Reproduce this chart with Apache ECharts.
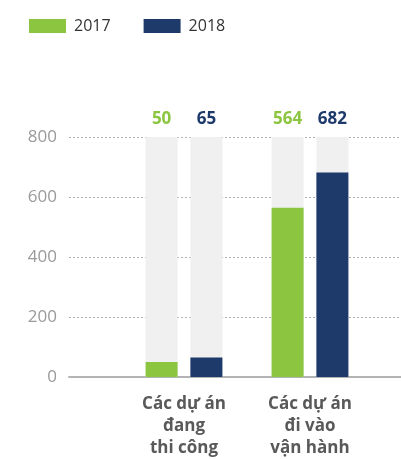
<!DOCTYPE html>
<html>
<head>
<meta charset="utf-8">
<script src="https://cdn.jsdelivr.net/npm/echarts@6/dist/echarts.min.js"></script>
<style>
  html, body { margin: 0; padding: 0; background: #fff; }
  #chart { width: 401px; height: 459px; }
</style>
</head>
<body>
<div id="chart"></div>
<script>
// Project counts by status, 2017 vs 2018
const categories = ['Các dự án\nđang\nthi công', 'Các dự án\nđi vào\nvận hành'];
const seriesNames = ['2017', '2018'];
const values2017 = [50, 564];
const values2018 = [65, 682];
const yTicks = [0, 200, 400, 600, 800];

const GREEN = '#8cc540';
const NAVY = '#1d3a6b';
const FONT = '"Open Sans", "Noto Sans", sans-serif';
const yMax = yTicks[yTicks.length - 1];
const yStep = yTicks[1] - yTicks[0];

// Value tags sit just above the top of the value axis, centred on each bar
function valueTags(values, color) {
  return {
    symbol: 'circle',
    symbolSize: 1,
    itemStyle: { color: 'rgba(0,0,0,0)' },
    label: {
      show: true,
      position: 'top',
      distance: 9,
      formatter: '{c}',
      color: color,
      fontFamily: FONT,
      fontWeight: 'bold',
      fontSize: 17
    },
    data: values.map((v, i) => ({ coord: [i, yMax], value: v }))
  };
}

function barSeries(name, values, color) {
  return {
    name: name,
    type: 'bar',
    xAxisIndex: 1,
    yAxisIndex: 1,
    data: values,
    barWidth: 32,
    barGap: '40%',
    itemStyle: { color: color },
    showBackground: true,
    backgroundStyle: { color: '#f0f0f0' },
    markPoint: valueTags(values, color)
  };
}

const chart = echarts.init(document.getElementById('chart'), null, { renderer: 'canvas' });
chart.setOption({
  animation: false,
  backgroundColor: '#ffffff',
  legend: {
    left: 24,
    top: 13,
    itemWidth: 37,
    itemHeight: 14,
    itemGap: 33,
    icon: 'rect',
    data: seriesNames,
    textStyle: { color: '#333', fontFamily: FONT, fontSize: 16, padding: [0, 0, 0, 3] }
  },
  grid: [
    { left: 69, right: 0, top: 137, bottom: 82 },
    { left: 121, right: 28, top: 137, bottom: 82 }
  ],
  xAxis: [
    {
      type: 'category',
      gridIndex: 0,
      data: [''],
      axisLine: { show: true, lineStyle: { color: '#b3b3b3', width: 2 } },
      axisTick: { show: false },
      axisLabel: { show: false }
    },
    {
      type: 'category',
      gridIndex: 1,
      data: categories,
      axisLine: { show: false },
      axisTick: { show: false },
      axisLabel: {
        margin: 16,
        color: '#595959',
        fontFamily: FONT,
        fontWeight: 'bold',
        fontSize: 17,
        lineHeight: 22
      }
    }
  ],
  yAxis: [
    {
      type: 'value',
      gridIndex: 0,
      min: 0,
      max: yMax,
      interval: yStep,
      axisLine: { show: false },
      axisTick: { show: false },
      axisLabel: { margin: 12, color: '#9a9a9a', fontFamily: FONT, fontSize: 17 },
      splitLine: { show: true, lineStyle: { color: '#b0b0b0', type: [2, 2], width: 1 } }
    },
    {
      type: 'value',
      gridIndex: 1,
      min: 0,
      max: yMax,
      interval: yStep,
      show: false,
      splitLine: { show: false }
    }
  ],
  series: [
    barSeries(seriesNames[0], values2017, GREEN),
    barSeries(seriesNames[1], values2018, NAVY)
  ]
});
</script>
</body>
</html>
